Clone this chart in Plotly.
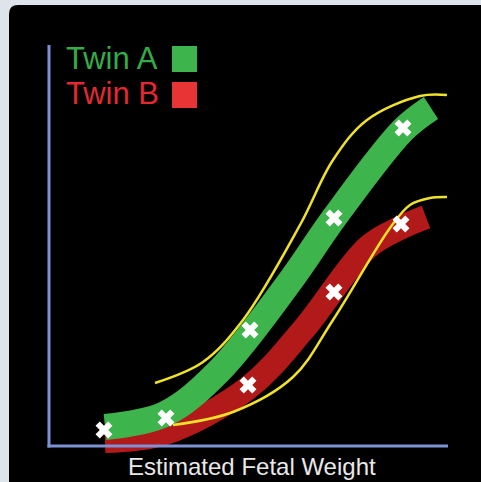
import plotly.graph_objects as go

# ---- data (units = arbitrary chart units; origin at the axes corner) ----
twin_a_band_x = [56, 116, 170, 242, 285, 354, 382]
twin_a_band_y = [19, 32, 75, 166, 228, 316, 338]
twin_b_band_x = [56, 116, 199, 254, 319, 351, 377]
twin_b_band_y = [5, 13, 58, 116, 199, 218, 229]

twin_a_pts_x = [55, 117, 201, 285, 354]
twin_a_pts_y = [16, 28, 116, 228, 318]
twin_b_pts_x = [199, 285, 352]
twin_b_pts_y = [61, 154, 222]

upper_ref_x = [106, 154, 194, 251, 284, 318, 371, 398]
upper_ref_y = [63, 84, 126, 221, 286, 326, 350, 351]
lower_ref_x = [124, 184, 244, 284, 341, 361, 381, 398]
lower_ref_y = [21, 34, 69, 126, 218, 241, 248, 249]

legend_labels = ["Twin A", "Twin B"]
x_title = "Estimated Fetal Weight"

GREEN = "rgb(62,180,76)"
GREEN_TXT = "rgb(52,172,72)"
RED_BAND = "rgb(178,26,26)"
RED_SQ = "rgb(232,52,52)"
RED_TXT = "rgb(228,40,50)"
YELLOW = "rgb(240,226,40)"
AXIS = "rgb(125,145,215)"
OUTER = "rgb(221,228,236)"
FONT = "Liberation Sans, Arial, sans-serif"

fig = go.Figure()

fig.add_trace(go.Scatter(x=twin_b_band_x, y=twin_b_band_y, mode="lines",
                         line=dict(color=RED_BAND, width=24, shape="spline", smoothing=1),
                         hoverinfo="skip"))
fig.add_trace(go.Scatter(x=twin_a_band_x, y=twin_a_band_y, mode="lines",
                         line=dict(color=GREEN, width=26, shape="spline", smoothing=1),
                         hoverinfo="skip"))
fig.add_trace(go.Scatter(x=upper_ref_x, y=upper_ref_y, mode="lines",
                         line=dict(color=YELLOW, width=2.5, shape="spline", smoothing=1)))
fig.add_trace(go.Scatter(x=lower_ref_x, y=lower_ref_y, mode="lines",
                         line=dict(color=YELLOW, width=2.5, shape="spline", smoothing=1)))
fig.add_trace(go.Scatter(x=twin_a_pts_x + twin_b_pts_x, y=twin_a_pts_y + twin_b_pts_y,
                         mode="markers",
                         marker=dict(symbol="x", size=15, color="white", line=dict(width=0))))

shapes = [
    # black panel
    dict(type="path", xref="x", yref="y", layer="below",
         path="M -40,-50 L -40,432 Q -40,441 -31,441 L 450,441 L 450,-50 Z",
         fillcolor="black", line=dict(width=0)),
    # axes
    dict(type="line", xref="x", yref="y", x0=0, y0=-1.5, x1=0, y1=401,
         line=dict(color=AXIS, width=3)),
    dict(type="line", xref="x", yref="y", x0=-1.5, y0=0, x1=399, y1=0,
         line=dict(color=AXIS, width=3)),
    # legend squares
    dict(type="rect", xref="x", yref="y", x0=123, x1=148, y0=374, y1=400,
         fillcolor=GREEN, line=dict(width=0)),
    dict(type="rect", xref="x", yref="y", x0=123, x1=148, y0=338, y1=364,
         fillcolor=RED_SQ, line=dict(width=0)),
]

annotations = [
    dict(x=15, y=388, xref="x", yref="y", text=legend_labels[0], showarrow=False,
         xanchor="left", yanchor="middle", font=dict(family=FONT, size=31, color=GREEN_TXT)),
    dict(x=15, y=353, xref="x", yref="y", text=legend_labels[1], showarrow=False,
         xanchor="left", yanchor="middle", font=dict(family=FONT, size=31, color=RED_TXT)),
    dict(x=202.5, y=-20, xref="x", yref="y", text=x_title, showarrow=False,
         xanchor="center", yanchor="middle", font=dict(family=FONT, size=24, color="rgb(232,232,232)")),
]

fig.update_layout(
    width=481, height=482, autosize=False,
    margin=dict(l=0, r=0, t=0, b=0),
    paper_bgcolor=OUTER, plot_bgcolor="rgba(0,0,0,0)",
    showlegend=False, hovermode=False,
    shapes=shapes, annotations=annotations,
    xaxis=dict(range=[-49, 432], visible=False, fixedrange=True),
    yaxis=dict(range=[-36, 446], visible=False, fixedrange=True),
)

fig.write_html(
    "out.html",
    config={"displayModeBar": False, "staticPlot": True},
    post_script="document.body.style.margin='0';document.body.style.overflow='hidden';"
                "document.body.style.background='rgb(221,228,236)';",
)
